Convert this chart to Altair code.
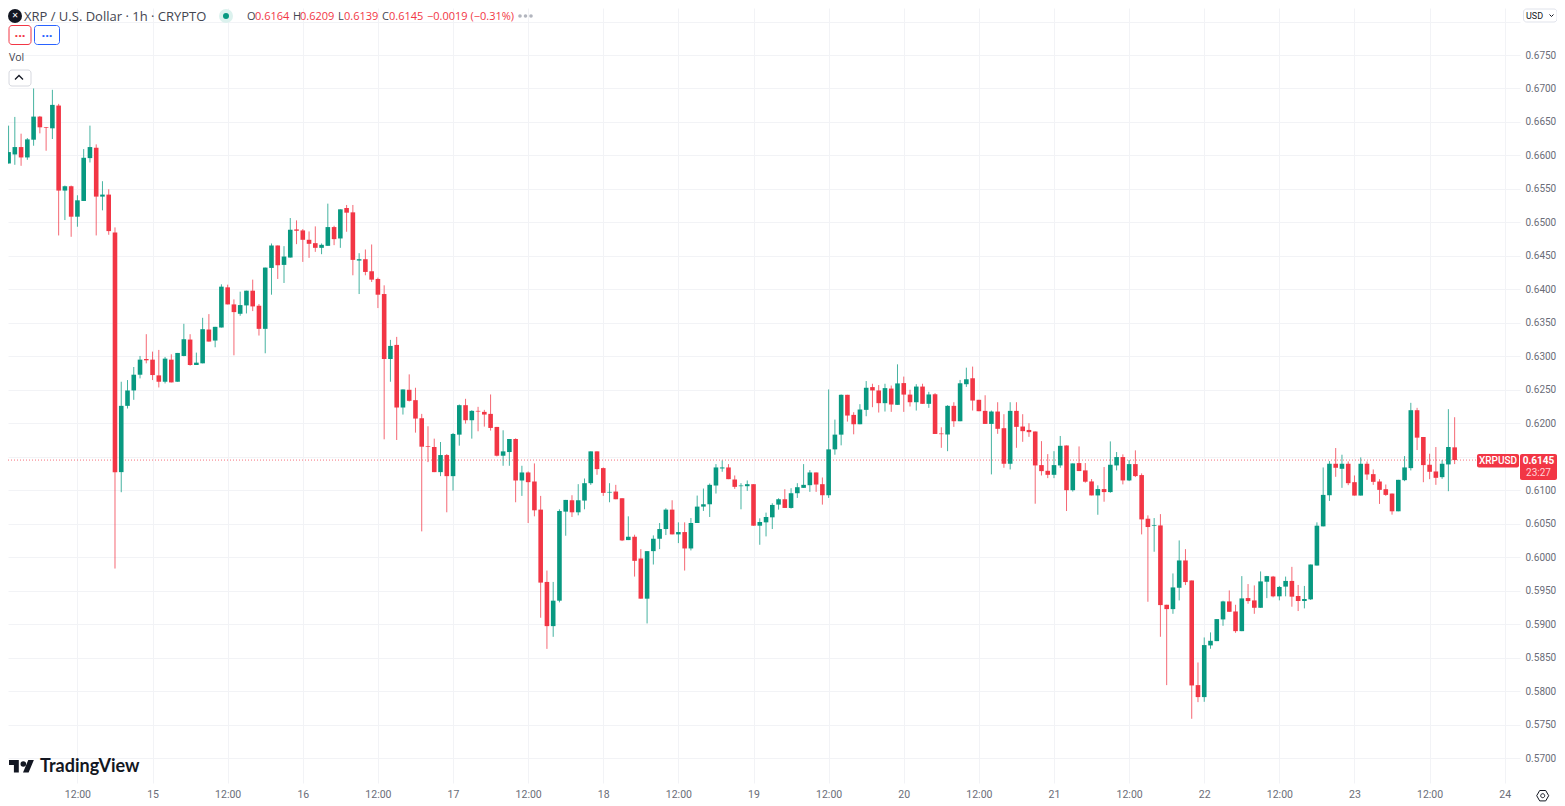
import altair as alt
import pandas as pd

opens = [.6706,.6588,.66015,.66125,.6597,.66235,.6658,.66425,.66405,.66745,
.65475,.6554,.65085,.6532,.6596,.66115,.65385,.65415,.6485,.6127,
.6226,.6249,.62725,.6296,.6295,.62715,.6262,.6295,.6262,.63005,
.6325,.6287,.62895,.634,.63235,.6343,.6403,.63775,.63635,.6376,
.6398,.63755,.6341,.6432,.64655,.64365,.64475,.64895,.6488,.6474,
.6469,.6462,.6465,.6493,.6476,.65215,.6515,.6443,.6445,.6427,
.64155,.6393,.6296,.6317,.62235,.625,.62345,.62075,.61655,.61645,
.6127,.61525,.6121,.6183,.6227,.62045,.62185,.6217,.6214,.61945,
.61515,.6157,.61765,.61145,.61265,.6113,.6071,.5963,.5897,.5935,
.6068,.6085,.6067,.60845,.61105,.6158,.6133,.60965,.6098,.6088,
.60255,.60305,.5998,.5938,.6009,.60275,.6042,.6071,.6034,.60375,
.6013,.6051,.60755,.6079,.6107,.61325,.6134,.6116,.6106,.6106,
.6109,.6047,.6052,.60595,.60785,.60865,.60735,.60955,.61035,.61075,
.61265,.6109,.60925,.6161,.6183,.62425,.62125,.61985,.622,.6254,
.6249,.623,.62518,.62275,.626,.62428,.62314,.62548,.6229,.62433,
.61847,.61832,.6226,.6203,.62583,.62672,.6235,.62185,.6199,.62175,
.61926,.61395,.62185,.61951,.619,.61877,.61375,.6129,.6123,.6137,
.61668,.61,.61405,.61296,.61131,.60922,.61017,.60972,.6137,.61495,
.61146,.6139,.61226,.60574,.6047,.60474,.59289,.59224,.59543,.59951,
.59652,.58089,.5791,.58682,.58746,.5907,.59339,.59189,.58895,.59389,
.59354,.59244,.59633,.5971,.59415,.5956,.59645,.5942,.59345,.5937,
.59875,.6046,.60925,.61395,.6132,.61395,.6112,.6092,.61395,.6124,
.6113,.61015,.6095,.60685,.6115,.6133,.62195,.61795,.6138,.6128,
.61195,.61385,.6164]

highs = [.6721,.66445,.66575,.66325,.6626,.67,.6659,.66425,.6698,.6677,
.6555,.6555,.65405,.66095,.66445,.66165,.65615,.65495,.64925,.6262,
.62645,.6284,.63005,.6333,.6307,.63095,.6299,.6303,.6305,.63485,
.6333,.63055,.63575,.6363,.6344,.64075,.6407,.6385,.63965,.6398,
.64145,.6378,.64325,.64685,.64655,.64645,.65065,.6503,.649,.64865,
.6494,.64685,.6528,.6495,.65195,.6526,.6526,.6454,.64595,.6467,
.64175,.6406,.63245,.6329,.62505,.6273,.6253,.6214,.61955,.6177,
.6172,.6154,.61855,.6228,.62365,.62195,.62245,.622,.6243,.61945,
.61895,.61765,.61775,.61365,.6128,.614,.60915,.598,.5963,.60715,
.60855,.60925,.6109,.61175,.6158,.6158,.6134,.61105,.6108,.6088,
.6061,.60335,.6012,.6009,.60325,.6051,.6073,.6085,.6052,.6052,
.60585,.6092,.61025,.611,.6139,.61445,.6139,.6122,.61105,.61145,
.6109,.6058,.60665,.60805,.6088,.61015,.6103,.61105,.6139,.613,
.61265,.6119,.62505,.62055,.6243,.62425,.62165,.62285,.6263,.6259,
.6257,.6259,.62563,.6288,.62697,.625,.62583,.6259,.6247,.6245,
.6194,.6227,.62314,.62647,.6283,.62846,.6235,.62418,.6219,.62314,
.62135,.62314,.62314,.62135,.62,.61877,.61733,.61539,.61583,.6181,
.61668,.614,.61654,.61405,.61166,.61072,.61346,.61729,.6157,.61535,
.6145,.61595,.61251,.60624,.60584,.60643,.59289,.59757,.6025,.6012,
.59652,.58427,.58801,.58876,.59075,.59349,.59503,.59289,.59717,.59598,
.59578,.59787,.5972,.5972,.5957,.5971,.59855,.59585,.5957,.5989,
.6052,.6134,.61435,.6163,.6153,.6143,.6122,.6149,.6143,.6131,
.61165,.61085,.6095,.61155,.6151,.62305,.6223,.61795,.61545,.61645,
.6145,.6221,.6209]

lows = [.6563,.6588,.6586,.65845,.65935,.66145,.6633,.6607,.66245,.64805,
.65035,.64785,.64935,.6532,.65895,.64805,.6518,.64815,.5983,.6097,
.6222,.6235,.6267,.62895,.62645,.62535,.62595,.6261,.6262,.63,
.6286,.6287,.62895,.6322,.63135,.6343,.63775,.63015,.63605,.6364,
.63675,.6331,.63045,.6392,.64155,.64095,.64475,.64675,.6441,.6447,
.6456,.64525,.6465,.6466,.6462,.6486,.6421,.6393,.6421,.6411,
.6372,.6176,.6262,.6175,.6213,.62325,.6186,.60385,.6142,.6127,
.6121,.6067,.60995,.61665,.61995,.6177,.6188,.6195,.6189,.61505,
.61365,.61365,.6082,.60915,.6051,.6061,.59095,.5863,.5881,.59325,
.6032,.606,.60625,.60715,.6108,.6123,.60915,.6082,.60865,.6024,
.60255,.5971,.5938,.5901,.5989,.6012,.6033,.6034,.6021,.598,
.601,.6051,.6069,.606,.6095,.61275,.61165,.6102,.60715,.6099,
.6047,.60185,.6031,.6042,.6071,.60735,.60725,.60885,.61035,.60975,
.60975,.60785,.60885,.6153,.6167,.62025,.61835,.61985,.62105,.6224,
.6216,.62175,.6217,.62275,.6217,.6225,.6219,.6229,.6223,.6184,
.61633,.61583,.61946,.6203,.62543,.6219,.6218,.6199,.61236,.61842,
.61335,.6131,.61633,.61723,.61797,.60798,.6122,.6118,.6118,.61335,
.60689,.6098,.61286,.61112,.60922,.60633,.60828,.60962,.61296,.61087,
.61136,.61196,.6034,.59334,.60081,.58811,.58089,.59154,.59354,.59583,
.57586,.57835,.5784,.58632,.58746,.58975,.59184,.5887,.58895,.59304,
.59154,.59244,.59388,.594,.59355,.59415,.5926,.59195,.59235,.5936,
.59875,.6046,.6084,.612,.61035,.61075,.6092,.6092,.61155,.6108,
.60795,.60915,.60635,.60685,.61135,.61295,.616,.6112,.61165,.6108,
.6117,.60985,.6139]

closes = [.6588,.6605,.66125,.6597,.6624,.6658,.6642,.66415,.66755,.65475,
.6554,.65085,.6533,.65965,.66125,.65385,.65415,.6487,.6127,.6226,
.6249,.62725,.6295,.6294,.6272,.6262,.62965,.6261,.6305,.63255,
.6287,.62905,.63405,.6322,.6344,.6404,.63775,.6366,.63765,.6398,
.63745,.6341,.64325,.64655,.6436,.6449,.6489,.64875,.6474,.6468,
.6462,.64665,.6493,.6475,.65195,.65145,.6444,.6445,.6426,.64145,
.6392,.6296,.63155,.62235,.62505,.62335,.6207,.6165,.61645,.6127,
.61525,.6121,.6184,.6227,.62045,.62185,.62175,.6213,.6193,.61515,
.6158,.61765,.61145,.61265,.6112,.607,.5962,.5897,.5935,.6069,
.60855,.6067,.6085,.61105,.6158,.61315,.6096,.60975,.60865,.6025,
.60305,.59945,.5938,.6009,.60275,.6042,.6071,.6034,.60375,.6013,
.6051,.60755,.6079,.6108,.6134,.6134,.61165,.6105,.6107,.6109,
.6047,.60525,.606,.6078,.60865,.60735,.60955,.61045,.6108,.61265,
.61085,.60925,.6161,.6183,.62425,.62115,.61985,.62205,.6253,.6249,
.623,.62525,.6228,.62595,.62428,.62314,.62548,.6229,.6243,.6184,
.61837,.6226,.6203,.62597,.62657,.62339,.6218,.6199,.62175,.61917,
.61395,.62185,.61946,.61882,.61867,.6137,.61285,.6123,.61375,.61663,
.61,.614,.61286,.61127,.60922,.61017,.60972,.6138,.61495,.61146,
.6139,.61211,.60564,.6045,.6048,.59284,.59224,.59548,.59951,.59628,
.58084,.5791,.58687,.58751,.59075,.59339,.59184,.58895,.59384,.59344,
.59244,.59638,.59717,.59415,.59555,.59645,.5941,.59345,.59375,.5989,
.6047,.6093,.61395,.61335,.61395,.61105,.6092,.61395,.61235,.61125,
.61005,.6093,.60685,.61155,.6134,.62195,.61785,.61375,.61275,.61185,
.61395,.61645,.6145]

hours = list(range(len(closes)))
x_ticks = [12,24,36,48,60,72,84,96,108,120,132,144,156,168,180,192,204,216,228,240]
y_ticks = [.57,.575,.58,.585,.59,.595,.6,.605,.61,.615,.62,.625,.63,.635,.64,.645,.65,.655,.66,.665,.67,.675,.68]
last_price = 0.6145

RED, GREEN = "#F23645", "#089981"
GRID = "#F2F3F6"
FONT = "Open Sans"
AXFONT = "Roboto"
DARK = "#131722"
GREY = "#6A6D78"

df = pd.DataFrame({"hour": hours, "open": opens, "high": highs, "low": lows, "close": closes})
df["dir"] = ["up" if c >= o else "down" for o, c in zip(opens, closes)]

xscale = alt.Scale(domain=[0.91, 242.44], nice=False, zero=False)
yscale = alt.Scale(domain=[0.56627, 0.68202], nice=False, zero=False)
colour = alt.Color("dir:N", scale=alt.Scale(domain=["up", "down"], range=[GREEN, RED]), legend=None)

x_axis = alt.Axis(values=x_ticks, grid=True, gridColor=GRID, gridWidth=1, domain=False, ticks=False,
                  title=None, labelFont=AXFONT, labelFontSize=10.5, labelColor=GREY, labelPadding=6,
                  labelOverlap=False, labelFlush=False,
                  labelExpr="datum.value % 24 == 0 ? toString(14 + datum.value / 24) : '12:00'")
y_axis = alt.Axis(values=y_ticks, orient="right", grid=True, gridColor=GRID, gridWidth=1, domain=False, ticks=False,
                  title=None, labelFont=AXFONT, labelFontSize=10, labelColor=GREY, labelPadding=5,
                  labelOverlap=False, labelFlush=False,
                  labelExpr="datum.value > 0.679 || abs(datum.value - 0.615) < 0.0001 ? '' : format(datum.value, '.4f')")

base = alt.Chart(df)
wicks = base.mark_rule(strokeWidth=1, clip=True, opacity=0.75).encode(
    x=alt.X("hour:Q", scale=xscale, axis=x_axis),
    y=alt.Y("low:Q", scale=yscale, axis=y_axis),
    y2="high:Q", color=colour)
bodies = base.mark_rule(strokeWidth=4.6, clip=True).encode(
    x=alt.X("hour:Q", scale=xscale, axis=x_axis),
    y=alt.Y("open:Q", scale=yscale, axis=y_axis),
    y2="close:Q", color=colour)

ONE = alt.Data(values=[{"a": 1}])

def px(v):
    return alt.value(v - 8)

def label(text, x, y, size=11, color=DARK, align="left", weight="normal", font=FONT):
    return alt.Chart(ONE).mark_text(align=align, baseline="middle", fontSize=size, font=font,
                                    fontWeight=weight, color=color, clip=False).encode(
        x=px(x), y=px(y), text=alt.value(text))

def box(x0, x1, y0, y1, fill, stroke=None, radius=3):
    kw = dict(fill=fill, cornerRadius=radius, clip=False)
    if stroke:
        kw.update(stroke=stroke, strokeWidth=1)
    return alt.Chart(ONE).mark_rect(**kw).encode(x=px(x0), x2=px(x1), y=px(y0), y2=px(y1))

def glyph(path, x, y, fill=None, stroke=None, width=1, scale=1.0):
    kw = dict(shape=path, size=(2 * scale) ** 2, opacity=1, clip=False, filled=bool(fill))
    if fill:
        kw.update(fill=fill, strokeWidth=0)
    if stroke:
        kw.update(stroke=stroke, strokeWidth=width)
    return alt.Chart(ONE).mark_point(**kw).encode(x=px(x), y=px(y))

def disc(x, y, r, fill):
    return alt.Chart(ONE).mark_point(shape="circle", size=(2 * r) ** 2, filled=True, fill=fill, opacity=1,
                                     strokeWidth=0, clip=False).encode(x=px(x), y=px(y))

price_line = alt.Chart(pd.DataFrame({"p": [last_price]})).mark_rule(
    color=RED, strokeWidth=1, strokeDash=[1, 2], opacity=0.7, clip=False
).encode(y=alt.Y("p:Q", scale=yscale, axis=y_axis), x=alt.value(0), x2=px(1477))

HY = 17
TXT = "#434651"
chrome = [
    box(1477, 1519, 454, 467.5, RED, radius=2),
    label("XRPUSD", 1498, 461, size=10, color="#FFFFFF", align="center", font=AXFONT, weight=500),
    box(1520, 1557, 454, 480, RED, radius=2),
    label("0.6145", 1538.5, 461, size=10, color="#FFFFFF", align="center", weight="bold", font=AXFONT),
    label("23:27", 1538.5, 473, size=10, color="#FFD5D9", align="center", font=AXFONT),
    disc(15, 16, 7, "#131722"),
    label("✕", 15, 16, size=8, color="#FFFFFF", align="center", font="DejaVu Sans"),
    label("XRP / U.S. Dollar · 1h · CRYPTO", 24, HY, size=13, color=TXT),
    disc(226, 16, 7, "#DCF2EE"),
    disc(226, 16, 3, GREEN),
    label("O", 247, HY, color=TXT), label("0.6164", 255, HY, color=RED),
    label("H", 293, HY, color=TXT), label("0.6209", 300, HY, color=RED),
    label("L", 338, HY, color=TXT), label("0.6139", 344, HY, color=RED),
    label("C", 382, HY, color=TXT), label("0.6145", 389, HY, color=RED),
    label("−0.0019 (−0.31%)", 427, HY, color=RED),
    disc(520, 16, 1.8, "#B2B5BE"), disc(525.5, 16, 1.8, "#B2B5BE"), disc(531, 16, 1.8, "#B2B5BE"),
    box(9, 31, 25.5, 44.5, "#FFFFFF", RED),
    label("...", 20, 33, size=13, color=RED, align="center", weight="bold"),
    box(34.5, 59.5, 25.5, 44.5, "#FFFFFF", "#2962FF"),
    label("...", 47, 33, size=13, color="#2962FF", align="center", weight="bold"),
    label("Vol", 9, 58, size=10.5, color=TXT),
    box(9, 31, 70, 86, "#FFFFFF", "#D6D8DF"),
    glyph("M-4 2L0 -2L4 2", 19, 77.5, stroke=DARK, width=1.3),
    box(1523.5, 1557, 9, 22, "#FFFFFF", "#E0E3EB"),
    label("USD", 1526, 16, size=9, color=DARK, font=AXFONT),
    glyph("M-2 -1L0 1L2 -1", 1551.5, 15.5, stroke=DARK, width=1),
    glyph("M14 22H7V11H0V4h14v18zM28 22h-8l7.5-18h8L28 22z", 9, 757.2, fill=DARK, scale=0.7),
    disc(23.3, 764, 2.8, DARK),
    label("TradingView", 40, 766.5, size=18, weight="bold", font="Lato"),
    glyph("M-6 0L-3 -5.2L3 -5.2L6 0L3 5.2L-3 5.2Z M2 0A2 2 0 1 1 -2 0A2 2 0 1 1 2 0Z", 1542.7, 795.7, stroke=DARK, width=1),
]

chart = alt.layer(wicks, price_line, bodies, *chrome).properties(
    width=1512, height=775,
    padding={"left": 0, "top": 0, "right": 37, "bottom": 23},
    autosize=alt.AutoSizeParams(type="none"),
).configure_view(stroke=None)

chart.save("out.html", embed_options={"renderer": "svg", "actions": False})
